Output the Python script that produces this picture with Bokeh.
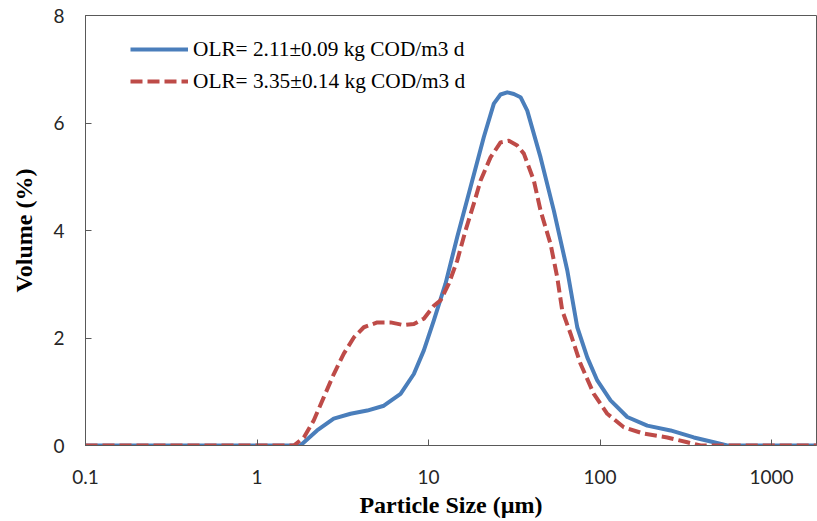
from bokeh.plotting import figure
from bokeh.models import FixedTicker, CustomJSTickFormatter, Legend, LegendItem, Range1d
from bokeh.embed import file_html
from bokeh.resources import INLINE

# Particle size distribution (volume %) for two organic loading rates
size_um = [0.1, 1.0, 1.79, 2.24, 2.80, 3.51, 4.39, 5.49, 6.87, 8.21, 9.39, 10.74, 12.02,
           12.56, 14.70, 17.58, 21.01, 24.03, 26.29, 28.76, 31.43, 34.39, 37.63, 44.99,
           53.78, 64.39, 73.65, 84.22, 96.31, 115.1, 144.1, 188.5, 257.7, 352.3, 460.9,
           551.6, 1000.0, 1830.0]
vol_olr_low = [0.0, 0.0, 0.0, 0.28, 0.50, 0.59, 0.65, 0.74, 0.96, 1.33, 1.77, 2.33, 2.82,
               3.01, 3.88, 4.81, 5.74, 6.36, 6.53, 6.57, 6.54, 6.48, 6.23, 5.36,
               4.37, 3.26, 2.20, 1.64, 1.21, 0.84, 0.53, 0.37, 0.28, 0.15, 0.06,
               0.0, 0.0, 0.0]

size_um_hi = [0.1, 1.0, 1.64, 1.875, 2.144, 2.452, 2.804, 3.207, 3.668, 4.195, 5.022, 6.003,
              7.178, 8.211, 9.389, 10.74, 11.75, 13.13, 14.70, 16.43, 18.37, 20.11, 22.98,
              26.29, 29.38, 32.9, 35.95, 41.11, 44.99, 51.44, 56.28, 60.20, 67.30, 76.95,
              91.99, 110.2, 137.6, 180.1, 246.5, 322.6, 385.5, 1000.0, 1830.0]
vol_olr_high = [0.0, 0.0, 0.0, 0.15, 0.47, 0.90, 1.33, 1.71, 2.01, 2.20, 2.29, 2.29,
                2.24, 2.26, 2.36, 2.60, 2.70, 3.01, 3.44, 4.00, 4.50, 4.93, 5.36,
                5.64, 5.67, 5.58, 5.43, 4.93, 4.37, 3.75, 3.13, 2.51, 2.08, 1.52,
                0.96, 0.59, 0.34, 0.22, 0.15, 0.06, 0.0, 0.0, 0.0]

series_labels = ["OLR= 2.11\u00b10.09 kg COD/m3 d", "OLR= 3.35\u00b10.14 kg COD/m3 d"]
x_ticks = [0.1, 1, 10, 100, 1000]
x_tick_labels = ["0.1", "1", "10", "100", "1000"]
y_ticks = [0, 2, 4, 6, 8]

AXIS_GRAY = "#595959"
BLUE = "#4A7EBB"
RED = "#BE4B48"

p = figure(width=817, height=521, x_axis_type="log",
           x_range=Range1d(0.1, 1828), y_range=Range1d(0, 8),
           output_backend="svg", toolbar_location=None,
           min_border_left=85, min_border_right=1, min_border_top=15, min_border_bottom=76)
p.background_fill_color = "white"
p.border_fill_color = "white"
p.outline_line_color = AXIS_GRAY
p.outline_line_width = 1
p.xgrid.visible = False
p.ygrid.visible = False

r1 = p.line(size_um, vol_olr_low, line_color=BLUE, line_width=4, line_join="round")
r2 = p.line(size_um_hi, vol_olr_high, line_color=RED, line_width=4, line_dash="12 5",
            line_join="round")

# x axis
xa = p.xaxis[0]
xa.ticker = FixedTicker(ticks=x_ticks, minor_ticks=[])
xa.formatter = CustomJSTickFormatter(args=dict(labels=x_tick_labels), code="return labels[index];")
xa.axis_line_color = AXIS_GRAY
xa.major_tick_line_color = AXIS_GRAY
xa.major_tick_in = 6
xa.major_tick_out = 0
xa.minor_tick_line_color = None
xa.major_label_text_font = "Lato"
xa.major_label_text_font_size = "19px"
xa.major_label_text_color = "#262626"
xa.major_label_standoff = 24
xa.axis_label = "Particle Size (\u00b5m)"
xa.axis_label_text_font = "Liberation Serif"
xa.axis_label_text_font_style = "bold"
xa.axis_label_text_font_size = "24px"
xa.axis_label_text_color = "black"
xa.axis_label_standoff = 5

# y axis
ya = p.yaxis[0]
ya.ticker = FixedTicker(ticks=y_ticks, minor_ticks=[])
ya.axis_line_color = AXIS_GRAY
ya.major_tick_line_color = AXIS_GRAY
ya.major_tick_in = 6
ya.major_tick_out = 0
ya.minor_tick_line_color = None
ya.major_label_text_font = "Lato"
ya.major_label_text_font_size = "19px"
ya.major_label_text_color = "#262626"
ya.major_label_standoff = 21
ya.axis_label = "Volume (%)"
ya.axis_label_text_font = "Liberation Serif"
ya.axis_label_text_font_style = "bold"
ya.axis_label_text_font_size = "24px"
ya.axis_label_text_color = "black"
ya.axis_label_standoff = 13

legend = Legend(items=[LegendItem(label=series_labels[0], renderers=[r1]),
                       LegendItem(label=series_labels[1], renderers=[r2])],
                location=(45, 348), orientation="vertical",
                glyph_width=58, glyph_height=32, label_height=32, label_standoff=5,
                spacing=0, padding=0, margin=0,
                label_text_font="Liberation Serif", label_text_font_size="21.3px",
                label_text_color="black",
                border_line_color=None, background_fill_alpha=0)
p.add_layout(legend)

open("out.html", "w").write(file_html(p, INLINE))
